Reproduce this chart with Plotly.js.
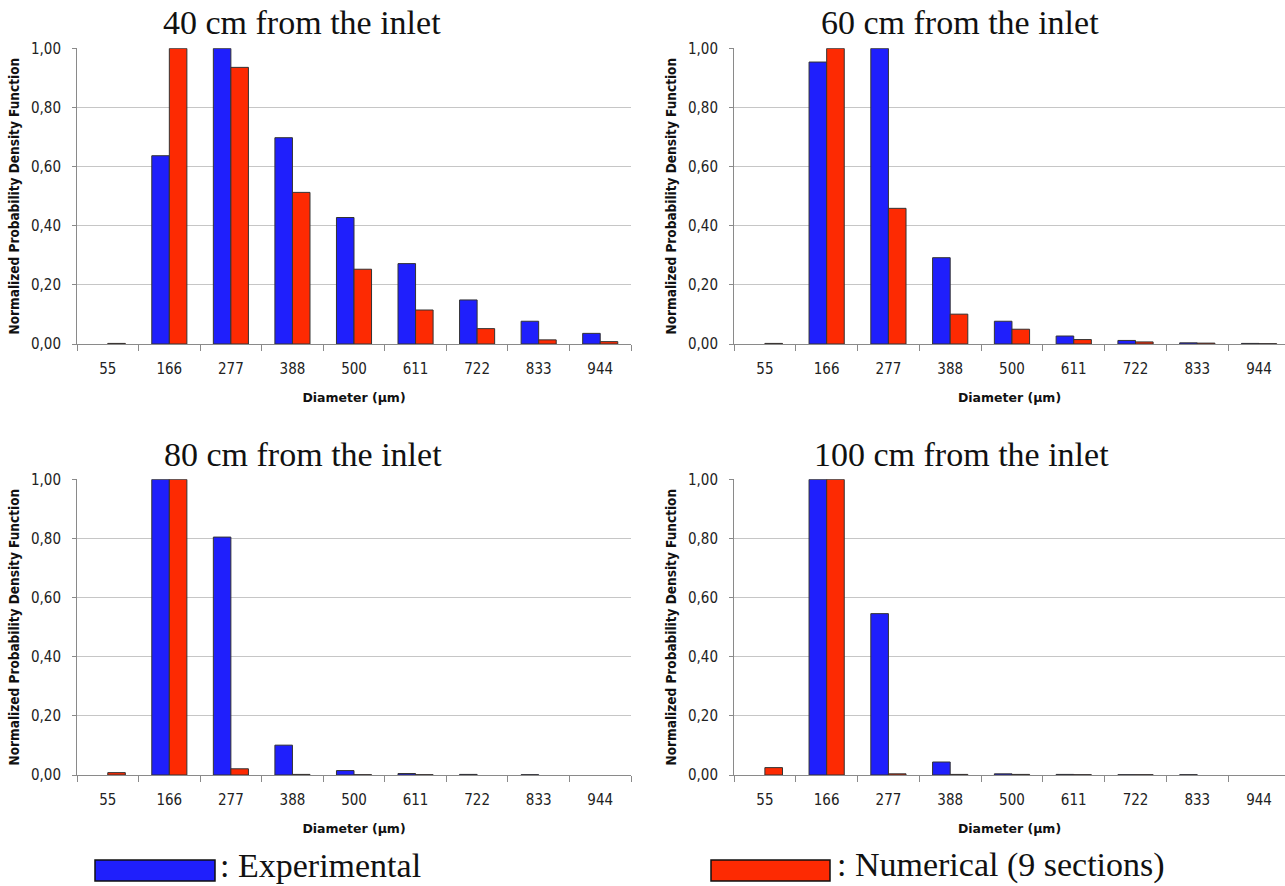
<!DOCTYPE html>
<html>
<head>
<meta charset="utf-8">
<script src="https://cdn.plot.ly/plotly-3.0.1.min.js"></script>
<style>
  html, body { margin: 0; padding: 0; background: #ffffff; }
  #chart { width: 1285px; height: 886px; }
</style>
</head>
<body>
<div id="chart"></div>
<script>
// ---- Data ----
const diameters = ['55', '166', '277', '388', '500', '611', '722', '833', '944'];

const panelTitles = ['40 cm from the inlet', '60 cm from the inlet', '80 cm from the inlet', '100 cm from the inlet'];

const experimental40 = [0.000, 0.637, 1.000, 0.698, 0.428, 0.272, 0.149, 0.077, 0.036];
const numerical40    = [0.002, 1.000, 0.936, 0.513, 0.253, 0.115, 0.052, 0.014, 0.008];

const experimental60 = [0.000, 0.954, 1.000, 0.292, 0.077, 0.027, 0.012, 0.004, 0.002];
const numerical60    = [0.002, 1.000, 0.459, 0.101, 0.050, 0.015, 0.007, 0.003, 0.001];

const experimental80 = [0.000, 1.000, 0.805, 0.101, 0.015, 0.005, 0.002, 0.001, 0.000];
const numerical80    = [0.008, 1.000, 0.021, 0.002, 0.001, 0.001, 0.000, 0.000, 0.000];

const experimental100 = [0.000, 1.000, 0.546, 0.044, 0.004, 0.002, 0.001, 0.001, 0.000];
const numerical100    = [0.025, 1.000, 0.004, 0.002, 0.002, 0.001, 0.001, 0.000, 0.000];

const yTickValues = [0, 0.2, 0.4, 0.6, 0.8, 1.0];

const seriesNames = ['Experimental', 'Numerical (9 sections)'];
const legendLabels = [': Experimental', ': Numerical (9 sections)'];

// ---- Styling ----
const W = 1285, H = 886;
const BLUE = '#1f1ffc';
const RED = '#fd2a02';
const GRID = '#c6c6c6';
const AXIS = '#8a8a8a';
const tickFont = { family: 'DejaVu Sans Condensed, Liberation Sans, Arial, sans-serif', size: 15, color: '#222' };
const yTitleFont = { family: 'DejaVu Sans Condensed, DejaVu Sans, Verdana, sans-serif', size: 13.5, color: '#111', weight: 'bold' };
const xTitleFont = { family: 'DejaVu Sans, Verdana, sans-serif', size: 12.5, color: '#111', weight: 'bold' };
const serif = 'Liberation Serif, Times New Roman, serif';

const px = v => v / W;
const py = v => 1 - v / H;
const outline = vals => vals.map(v => (v > 0 ? 1 : 0));

const panels = [
  { exp: experimental40,  num: numerical40,  x0: 77,  x1: 631,  y0: 48.3,  y1: 344, xr: [-0.5, 8.5],  tx: 302, ty: 23 },
  { exp: experimental60,  num: numerical60,  x0: 734, x1: 1285, y0: 48.3,  y1: 344, xr: [-0.5, 8.42], tx: 960, ty: 23 },
  { exp: experimental80,  num: numerical80,  x0: 77,  x1: 631,  y0: 479.3, y1: 775, xr: [-0.5, 8.5],  tx: 303, ty: 454 },
  { exp: experimental100, num: numerical100, x0: 734, x1: 1285, y0: 479.3, y1: 775, xr: [-0.5, 8.42], tx: 961, ty: 454 }
];

const data = [];
const layout = {
  width: W, height: H,
  margin: { l: 0, r: 0, t: 0, b: 0 },
  paper_bgcolor: '#ffffff',
  plot_bgcolor: '#ffffff',
  showlegend: false,
  barmode: 'group',
  bargap: 0.43,
  bargroupgap: 0,
  separators: ', ',
  annotations: [],
  shapes: []
};

panels.forEach((p, i) => {
  const n = i === 0 ? '' : String(i + 1);
  const xa = 'x' + n, ya = 'y' + n;
  data.push({
    type: 'bar', name: seriesNames[0], x: diameters, y: p.exp,
    xaxis: xa, yaxis: ya,
    marker: { color: BLUE, line: { color: '#333', width: outline(p.exp) } },
    hoverinfo: 'x+y+name'
  });
  data.push({
    type: 'bar', name: seriesNames[1], x: diameters, y: p.num,
    xaxis: xa, yaxis: ya,
    marker: { color: RED, line: { color: '#333', width: outline(p.num) } },
    hoverinfo: 'x+y+name'
  });
  layout['xaxis' + n] = {
    domain: [px(p.x0), px(p.x1)],
    anchor: ya,
    type: 'category',
    range: p.xr,
    showgrid: false,
    showline: true, linecolor: AXIS, linewidth: 1,
    ticks: 'outside', tickson: 'boundaries', ticklen: 6, tickcolor: AXIS,
    tickfont: tickFont,
    ticklabelstandoff: 11,
    zeroline: false,
    fixedrange: true,
    title: { text: 'Diameter (µm)', font: xTitleFont, standoff: 16 }
  };
  layout['yaxis' + n] = {
    domain: [py(p.y1), py(p.y0)],
    anchor: xa,
    range: [0, 1.0005],
    tickvals: yTickValues,
    tickformat: '.2f',
    showgrid: true, gridcolor: GRID, gridwidth: 1,
    showline: true, linecolor: AXIS, linewidth: 1,
    ticks: 'outside', ticklen: 4, tickcolor: AXIS,
    tickfont: tickFont,
    ticklabelstandoff: 8,
    zeroline: false,
    fixedrange: true,
    title: { text: 'Normalized Probability Density Function', font: yTitleFont, standoff: 8 }
  };
  layout.annotations.push({
    xref: 'paper', yref: 'paper', x: px(p.tx), y: py(p.ty),
    xanchor: 'center', yanchor: 'middle', showarrow: false,
    text: panelTitles[i],
    font: { family: serif, size: 34, color: '#111' }
  });
});

// ---- Legend (swatches + labels at bottom) ----
const legendItems = [
  { color: BLUE, rx0: 95,  rx1: 215, tx: 218, label: legendLabels[0] },
  { color: RED,  rx0: 711, rx1: 830, tx: 835, label: legendLabels[1] }
];
legendItems.forEach(it => {
  layout.shapes.push({
    type: 'rect', xref: 'paper', yref: 'paper',
    x0: px(it.rx0), x1: px(it.rx1), y0: py(881), y1: py(860),
    fillcolor: it.color, line: { color: '#111', width: 1.5 }
  });
  layout.annotations.push({
    xref: 'paper', yref: 'paper', x: px(it.tx), y: py(865),
    xanchor: 'left', yanchor: 'middle', showarrow: false,
    text: it.label,
    font: { family: serif, size: 34, color: '#111' }
  });
});

Plotly.newPlot('chart', data, layout, { displayModeBar: false, staticPlot: true });
</script>
</body>
</html>
